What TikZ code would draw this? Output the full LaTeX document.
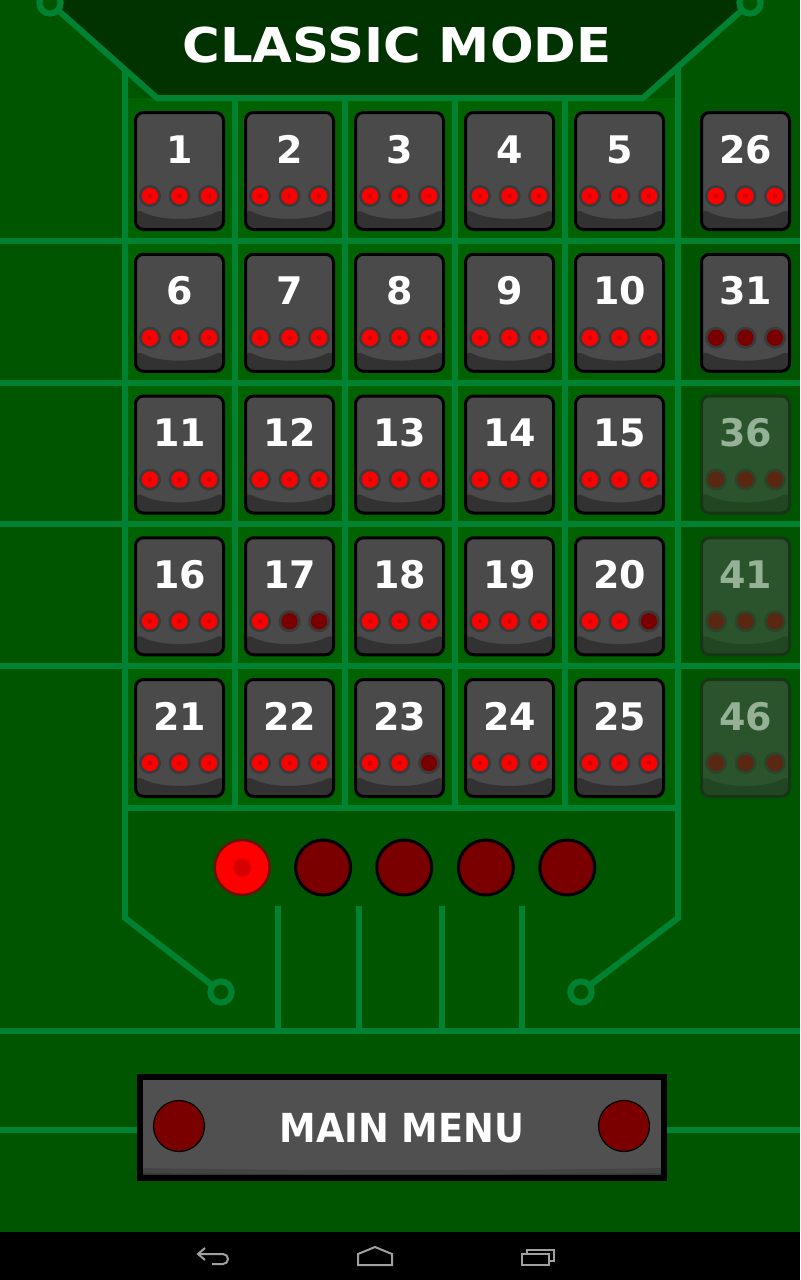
\documentclass[tikz,border=0pt]{standalone}
\usepackage{fontspec}
\setmainfont{DejaVu Sans}
\definecolor{bgc}{RGB}{0,86,0}
\definecolor{gridin}{RGB}{0,98,0}
\definecolor{hdr}{RGB}{0,51,0}
\definecolor{tracec}{RGB}{0,130,50}
\definecolor{tilegray}{RGB}{74,74,74}
\definecolor{tiledark}{RGB}{50,50,50}
\definecolor{ringc}{RGB}{58,58,58}
\definecolor{litred}{RGB}{255,0,0}
\definecolor{spotred}{RGB}{215,0,0}
\definecolor{dimred}{RGB}{122,0,0}
\definecolor{lockfill}{RGB}{44,84,44}
\definecolor{lockdark}{RGB}{34,70,34}
\definecolor{lockborder}{RGB}{22,54,22}
\definecolor{locktext}{RGB}{150,178,150}
\definecolor{lockring}{RGB}{42,70,42}
\definecolor{lockdot}{RGB}{90,40,18}
\definecolor{btngray}{RGB}{80,80,80}
\definecolor{btnmid}{RGB}{68,68,68}
\definecolor{btndark}{RGB}{52,52,52}
\definecolor{navgray}{RGB}{160,160,160}
\tikzset{
  trace/.style={draw=tracec, line width=3pt},
  tilebase/.style={rectangle, rounded corners=4pt, minimum width=44pt, minimum height=58.5pt, line width=1.5pt, inner sep=0pt},
  darkpart/.style={path picture={\fill[#1] ([yshift=10.75pt]path picture bounding box.south west) .. controls ([xshift=12pt,yshift=4.1pt]path picture bounding box.south west) and ([xshift=-12pt,yshift=4.1pt]path picture bounding box.south east) .. ([yshift=10.75pt]path picture bounding box.south east) -- (path picture bounding box.south east) -- (path picture bounding box.south west) -- cycle;}},
  tilebox/.style={tilebase, draw=black, fill=tilegray, darkpart=tiledark},
  lockbox/.style={tilebase, draw=lockborder, fill=lockfill, darkpart=lockdark},
  numtxt/.style={font=\bfseries\fontsize{19pt}{19pt}\selectfont, text=white, inner sep=0pt, anchor=base},
  locktxt/.style={numtxt, text=locktext},
  dotL/.style={fill=litred},
  dotD/.style={fill=dimred},
  spotL/.style={fill=spotred},
  spotD/.style={fill=dimred},
  bigdot/.style={circle, minimum size=27.5pt, inner sep=0pt, line width=1.5pt, draw=black, fill=dimred},
  nav/.style={draw=navgray, line width=1pt, line join=miter},
}
\begin{document}
\begin{tikzpicture}[x=0.5pt,y=-0.5pt]
\useasboundingbox (0,0) rectangle (800,1280);
% backgrounds
\fill[bgc] (0,0) rectangle (800,1232);
\fill[gridin] (125,98) rectangle (678,808);
\fill[hdr] (50,0) -- (157,98) -- (643,98) -- (750,0) -- cycle;
\fill[black] (0,1232) rectangle (800,1280);
% traces
\draw[trace] (50,3) -- (157,98) -- (643,98) -- (750,3);
\draw[trace] (125,70) -- (125,918) -- (221,992);
\draw[trace] (678,67) -- (678,918) -- (581,992);
\foreach \x in {235,345,455,565} \draw[trace] (\x,98) -- (\x,808);
\foreach \y in {241,383,524,666} \draw[trace] (0,\y) -- (800,\y);
\draw[trace] (125,808) -- (678,808);
\foreach \x in {278,359,442,522} \draw[trace] (\x,906) -- (\x,1031);
\draw[trace] (0,1031) -- (800,1031);
\draw[trace] (0,1130) -- (800,1130);
\foreach \p in {(50,3),(750,3),(221,992),(581,992)}
  \filldraw[trace, fill=bgc] \p circle[radius=5.3pt];
% title
\node[font=\bfseries\fontsize{24pt}{24pt}\selectfont, text=white, inner sep=0pt, anchor=base, xscale=1.07] (title) at (397,62) {CLASSIC MODE};
% tiles
\foreach \c/\r/\lab/\a/\b/\d in {
  0/0/1/L/L/L, 1/0/2/L/L/L, 2/0/3/L/L/L, 3/0/4/L/L/L, 4/0/5/L/L/L, 5/0/26/L/L/L,
  0/1/6/L/L/L, 1/1/7/L/L/L, 2/1/8/L/L/L, 3/1/9/L/L/L, 4/1/10/L/L/L, 5/1/31/D/D/D,
  0/2/11/L/L/L, 1/2/12/L/L/L, 2/2/13/L/L/L, 3/2/14/L/L/L, 4/2/15/L/L/L,
  0/3/16/L/L/L, 1/3/17/L/D/D, 2/3/18/L/L/L, 3/3/19/L/L/L, 4/3/20/L/L/D,
  0/4/21/L/L/L, 1/4/22/L/L/L, 2/4/23/L/L/D, 3/4/24/L/L/L, 4/4/25/L/L/L}{
  \pgfmathsetmacro\cx{\c<5 ? 179.5+110*\c : 745.5}
  \pgfmathsetmacro\cy{171+141.75*\r}
  \node[tilebox] (t\lab) at (\cx,\cy) {};
  \node[numtxt] (n\lab) at (\cx,\cy-8) {\lab};
  \foreach \k/\s in {-1/\a,0/\b,1/\d}{
    \fill[ringc] (\cx+29.5*\k,\cy+25) circle[radius=5.5pt];
    \fill[dot\s] (\cx+29.5*\k,\cy+25) circle[radius=4.1pt];
    \fill[spot\s] (\cx+29.5*\k,\cy+25) circle[radius=1.2pt];
  }
}
% locked tiles
\foreach \r/\lab in {2/36,3/41,4/46}{
  \pgfmathsetmacro\cy{171+141.75*\r}
  \node[lockbox] (t\lab) at (745.5,\cy) {};
  \node[locktxt] (n\lab) at (745.5,\cy-8) {\lab};
  \foreach \k in {-1,0,1}{
    \fill[lockring] (745.5+29.5*\k,\cy+25) circle[radius=5.5pt];
    \fill[lockdot] (745.5+29.5*\k,\cy+25) circle[radius=4.1pt];
  }
}
% progress circles
\node[bigdot, fill=litred, draw={rgb,255:red,100;green,20;blue,0}, line width=1.2pt] (p1) at (242.2,867.5) {};
\fill[spotred] (p1.center) circle[radius=4.5pt];
\node[bigdot] (p2) at (323.1,867.5) {};
\node[bigdot] (p3) at (404.2,867.5) {};
\node[bigdot] (p4) at (485.8,867.5) {};
\node[bigdot] (p5) at (567.3,867.5) {};
% main menu button
\node[rectangle, draw=black, line width=3pt, fill=btngray, minimum width=262pt, minimum height=50.5pt, inner sep=0pt,
  path picture={
    \fill[btnmid] ([yshift=5pt]path picture bounding box.south west) .. controls ([xshift=80pt,yshift=3.6pt]path picture bounding box.south west) and ([xshift=-80pt,yshift=3.6pt]path picture bounding box.south east) .. ([yshift=5pt]path picture bounding box.south east) -- (path picture bounding box.south east) -- (path picture bounding box.south west) -- cycle;
    \fill[btndark] ([yshift=2.4pt]path picture bounding box.south west) .. controls ([xshift=80pt,yshift=1.6pt]path picture bounding box.south west) and ([xshift=-80pt,yshift=1.6pt]path picture bounding box.south east) .. ([yshift=2.4pt]path picture bounding box.south east) -- (path picture bounding box.south east) -- (path picture bounding box.south west) -- cycle;
  }] (menu) at (402,1127.5) {};
\node[circle, fill=dimred, draw=black, line width=0.6pt, minimum size=25.5pt, inner sep=0pt] (mlb) at (179,1126) {};
\node[circle, fill=dimred, draw=black, line width=0.6pt, minimum size=25.5pt, inner sep=0pt] (mrb) at (624,1126) {};
\node[font=\bfseries\fontsize{20pt}{20pt}\selectfont, text=white, inner sep=0pt, anchor=base, xscale=0.92] (menutxt) at (402,1142) {MAIN MENU};
% navigation bar icons
\draw[nav] (205,1248) -- (198,1254) -- (205,1260);
\draw[nav] (198,1254) -- (223,1254) arc[start angle=90, end angle=-90, radius=2.5pt] -- (212,1264);
\draw[nav] (358,1265) -- (358,1254) -- (375,1247) -- (392,1254) -- (392,1265) -- cycle;
\draw[nav] (522,1254) rectangle (549,1265);
\draw[nav] (527,1254) -- (527,1250) -- (554,1250) -- (554,1261) -- (549,1261);
\end{tikzpicture}
\end{document}
